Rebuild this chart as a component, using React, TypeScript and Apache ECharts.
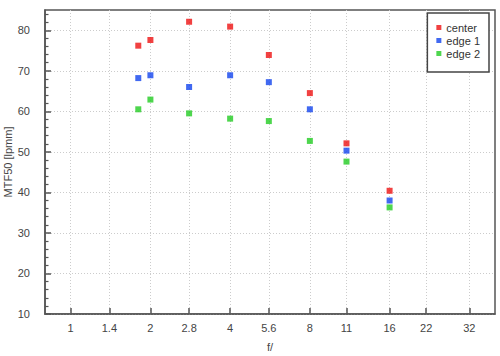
import React, { useEffect, useRef } from "react";
import * as echarts from "echarts";

const fStops = [1.8, 2, 2.8, 4, 5.6, 8, 11, 16];
const centerValues = [76.2, 77.6, 82.1, 80.9, 73.9, 64.5, 52.1, 40.4];
const edge1Values = [68.2, 68.9, 66.0, 68.9, 67.2, 60.5, 50.3, 38.0];
const edge2Values = [60.5, 62.9, 59.5, 58.2, 57.6, 52.7, 47.6, 36.3];
const xTickLabels = [1, 1.4, 2, 2.8, 4, 5.6, 8, 11, 16, 22, 32];
const yTickLabels = [10, 20, 30, 40, 50, 60, 70, 80];
const yMinorTicks = [12, 14, 16, 18, 22, 24, 26, 28, 32, 34, 36, 38, 42, 44, 46, 48, 52, 54, 56, 58, 62, 64, 66, 68, 72, 74, 76, 78, 82, 84];
const seriesNames = ["center", "edge 1", "edge 2"];
const seriesColors = ["#ee1111", "#1144ee", "#22cc22"];

const FONT = "Liberation Sans";

export default function App() {
  const ref = useRef<HTMLDivElement>(null);
  useEffect(() => {
    if (!ref.current) return;
    const chart = echarts.init(ref.current, undefined, { renderer: "svg" });
    const lx = (v: number) => Math.log2(v);
    const xTicks = xTickLabels.map(lx);
    const fmtX = (v: number) => {
      let best = xTickLabels[0];
      let d = Infinity;
      xTickLabels.forEach((t) => {
        const dd = Math.abs(lx(t) - v);
        if (dd < d) {
          d = dd;
          best = t;
        }
      });
      return String(best);
    };
    const allValues = [centerValues, edge1Values, edge2Values];
    chart.setOption({
      animation: false,
      backgroundColor: "#ffffff",
      textStyle: { fontFamily: FONT },
      grid: {
        left: 45,
        right: 5,
        top: 10,
        bottom: 42,
        containLabel: false,
        outerBoundsMode: "none",
        show: true,
        borderColor: "#555555",
        borderWidth: 1.5,
        backgroundColor: "transparent",
      },
      legend: {
        show: true,
        orient: "vertical",
        right: 11,
        top: 13,
        data: seriesNames,
        icon: "rect",
        itemWidth: 5,
        itemHeight: 5,
        itemGap: 0,
        itemStyle: { borderWidth: 0 },
        padding: [8, 9, 12, 9],
        borderColor: "#444444",
        borderWidth: 1.5,
        borderRadius: 0,
        backgroundColor: "#ffffff",
        textStyle: { fontFamily: FONT, fontSize: 11, color: "#333333", lineHeight: 13 },
      },
      xAxis: {
        type: "value",
        min: lx(0.8),
        max: lx(40),
        name: "f/",
        nameLocation: "middle",
        nameGap: 27,
        nameMoveOverlap: false,
        nameTextStyle: { fontFamily: FONT, fontSize: 11, color: "#444444" },
        axisLine: { show: true, onZero: false, lineStyle: { color: "#555555", width: 1.5 } },
        axisTick: {
          show: true,
          inside: true,
          length: 6,
          customValues: xTicks,
          lineStyle: { color: "#555555", width: 1.5 },
        },
        axisLabel: {
          customValues: xTicks,
          formatter: fmtX,
          showMinLabel: true,
          showMaxLabel: true,
          margin: 8,
          fontFamily: FONT,
          fontSize: 11,
          color: "#444444",
        },
        splitLine: {
          show: true,
          lineStyle: { color: "#cccccc", type: [1, 2], width: 1 },
        },
      },
      yAxis: [
        {
          type: "value",
          min: 10,
          max: 85,
          interval: 10,
          name: "MTF50 [lpmm]",
          nameLocation: "middle",
          nameGap: 32,
          nameMoveOverlap: false,
          nameTextStyle: { fontFamily: FONT, fontSize: 11, color: "#444444" },
          axisLine: { show: true, onZero: false, lineStyle: { color: "#555555", width: 1.5 } },
          axisTick: {
            show: true,
            inside: true,
            length: 6,
            customValues: yTickLabels,
            lineStyle: { color: "#555555", width: 1.5 },
          },
          axisLabel: {
            customValues: yTickLabels,
            showMinLabel: true,
            showMaxLabel: true,
            margin: 15,
            fontFamily: FONT,
            fontSize: 11,
            color: "#444444",
          },
          splitLine: {
            show: true,
            lineStyle: { color: "#cccccc", type: [1, 2], width: 1 },
          },
        },
        {
          type: "value",
          min: 10,
          max: 85,
          position: "left",
          offset: 0,
          axisLine: { show: false, onZero: false },
          axisTick: {
            show: true,
            inside: true,
            length: 3.5,
            customValues: yMinorTicks,
            lineStyle: { color: "#555555", width: 1.2 },
          },
          axisLabel: { show: false, customValues: yMinorTicks },
          splitLine: { show: false },
        },
      ],
      series: seriesNames.map((name, i) => ({
        name,
        type: "scatter",
        symbol: "rect",
        symbolSize: 6,
        itemStyle: { color: seriesColors[i] },
        data: fStops.map((f, j) => [lx(f), allValues[i][j]]),
      })),
    });
    return () => chart.dispose();
  }, []);
  return (
    <div
      ref={ref}
      style={{ position: "fixed", left: 0, top: 0, width: 500, height: 356 }}
    />
  );
}
